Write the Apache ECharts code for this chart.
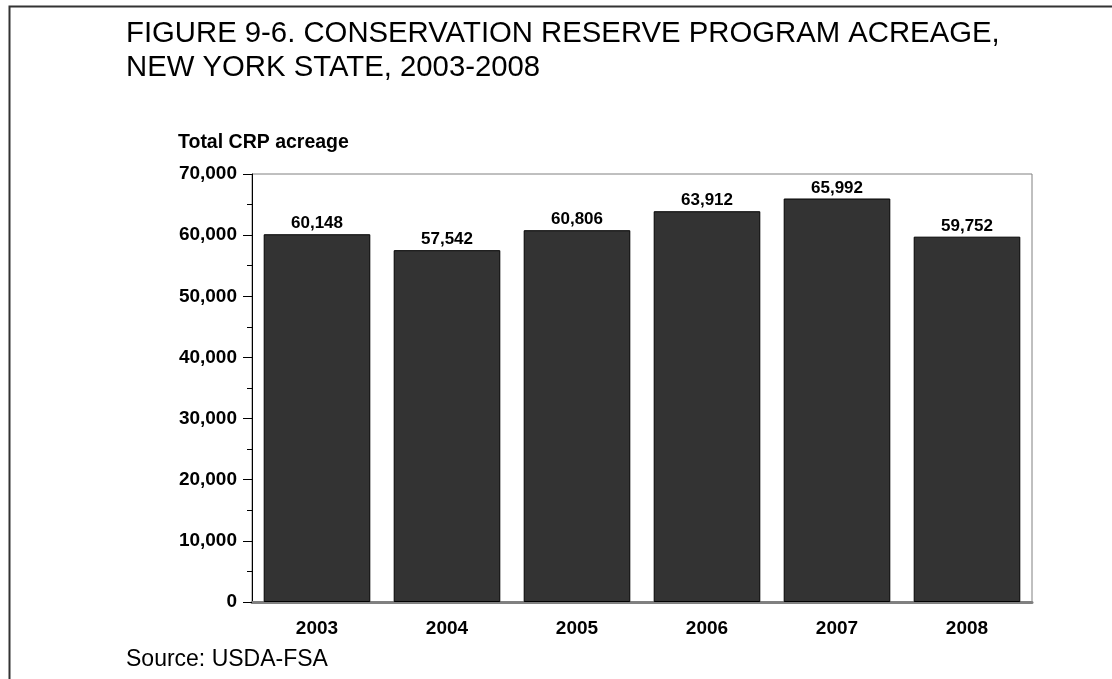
<!DOCTYPE html>
<html>
<head>
<meta charset="utf-8">
<script src="https://cdn.jsdelivr.net/npm/echarts@6/dist/echarts.min.js"></script>
<style>
html,body{margin:0;padding:0;background:#fff;}
#chart{width:1112px;height:679px;}
</style>
</head>
<body>
<div id="chart"></div>
<script>
const titleLines = ['FIGURE 9-6. CONSERVATION RESERVE PROGRAM ACREAGE,', 'NEW YORK STATE, 2003-2008'];
const yAxisTitle = 'Total CRP acreage';
const sourceText = 'Source: USDA-FSA';
const years = ['2003', '2004', '2005', '2006', '2007', '2008'];
const acreage = [60148, 57542, 60806, 63912, 65992, 59752];

const chart = echarts.init(document.getElementById('chart'), null, {renderer: 'canvas'});
const fmt = v => v.toLocaleString('en-US');
chart.setOption({
  backgroundColor: '#ffffff',
  animation: false,
  title: [
    {text: titleLines.join('\n'), left: 121, top: 12,
     textStyle: {fontFamily: 'Liberation Sans', fontWeight: 'normal', fontSize: 29.3, lineHeight: 34, color: '#000'}},
    {text: yAxisTitle, left: 173, top: 128,
     textStyle: {fontFamily: 'Liberation Sans', fontWeight: 'bold', fontSize: 19.5, color: '#000'}},
    {text: sourceText, left: 121, top: 643,
     textStyle: {fontFamily: 'Liberation Sans', fontWeight: 'normal', fontSize: 23, color: '#000'}}
  ],
  graphic: [
    {type: 'rect', left: 7, top: 4, shape: {x: 0, y: 0, width: 1300, height: 900}, silent: true, z: -10,
     style: {fill: 'none', stroke: '#333', lineWidth: 2}}
  ],
  grid: {left: 252, right: 80, top: 174, bottom: 77, show: true, borderColor: '#808080', borderWidth: 1, backgroundColor: 'transparent'},
  xAxis: {
    type: 'category', data: years,
    axisLine: {show: true, lineStyle: {color: '#808080', width: 3}},
    axisTick: {show: false},
    axisLabel: {margin: 17, fontFamily: 'Liberation Sans', fontWeight: 'bold', fontSize: 19, color: '#000'}
  },
  yAxis: {
    type: 'value', min: 0, max: 70000, interval: 10000,
    axisLine: {show: true, onZero: false, lineStyle: {color: '#000', width: 1}},
    axisTick: {show: true, inside: false, length: 9, lineStyle: {color: '#000'}},
    minorTick: {show: true, splitNumber: 2, length: 5, lineStyle: {color: '#000'}},
    splitLine: {show: false},
    axisLabel: {margin: 15, formatter: v => fmt(v), fontFamily: 'Liberation Sans', fontWeight: 'bold', fontSize: 19, color: '#000'}
  },
  series: [{
    type: 'bar', data: acreage, barCategoryGap: '18%',
    itemStyle: {color: '#333333', borderColor: '#000', borderWidth: 1},
    label: {show: true, position: 'top', distance: 2, formatter: p => fmt(p.value),
      fontFamily: 'Liberation Sans', fontWeight: 'bold', fontSize: 17, color: '#000'}
  }]
});
</script>
</body>
</html>
